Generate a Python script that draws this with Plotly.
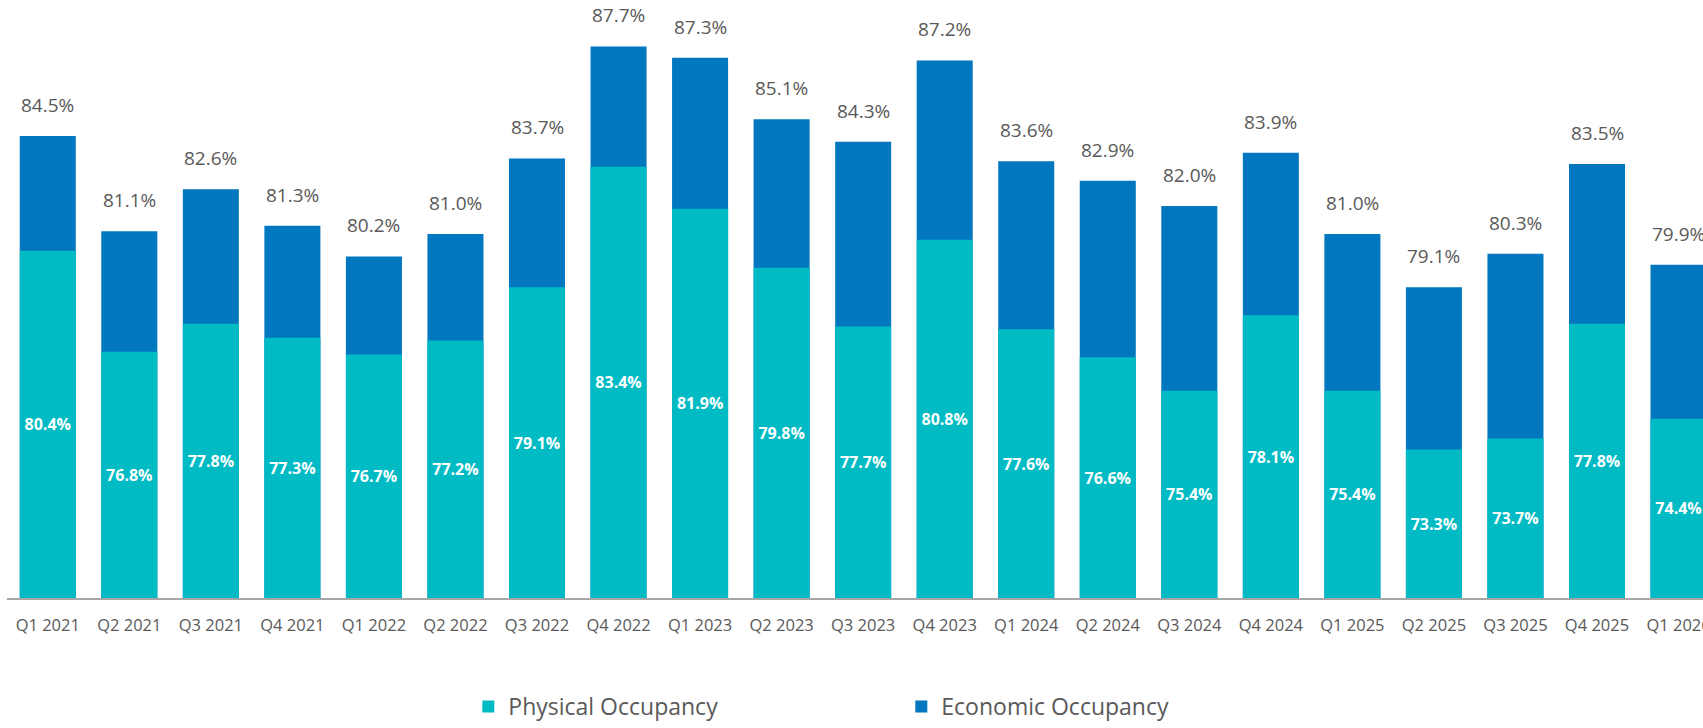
import plotly.graph_objects as go

quarters = [
    "Q1 2021", "Q2 2021", "Q3 2021", "Q4 2021",
    "Q1 2022", "Q2 2022", "Q3 2022", "Q4 2022",
    "Q1 2023", "Q2 2023", "Q3 2023", "Q4 2023",
    "Q1 2024", "Q2 2024", "Q3 2024", "Q4 2024",
    "Q1 2025", "Q2 2025", "Q3 2025", "Q4 2025",
    "Q1 2026",
]
economic_occupancy = [
    84.5, 81.1, 82.6, 81.3, 80.2, 81.0, 83.7, 87.7, 87.3, 85.1, 84.3,
    87.2, 83.6, 82.9, 82.0, 83.9, 81.0, 79.1, 80.3, 83.5, 79.9,
]
physical_occupancy = [
    80.4, 76.8, 77.8, 77.3, 76.7, 77.2, 79.1, 83.4, 81.9, 79.8, 77.7,
    80.8, 77.6, 76.6, 75.4, 78.1, 75.4, 73.3, 73.7, 77.8, 74.4,
]

# value axis starts at 68% so the bars rise from a common floor
AXIS_FLOOR = 68.0
AXIS_CEIL = 89.36

FONT = "Open Sans"
GREY = "#595959"
ECON_COLOR = "#0077BE"
PHYS_COLOR = "#00BBC4"

fig = go.Figure()

fig.add_trace(go.Bar(
    name="Economic Occupancy",
    x=quarters,
    y=[v - AXIS_FLOOR for v in economic_occupancy],
    base=AXIS_FLOOR,
    marker=dict(color=ECON_COLOR, line=dict(width=0)),
    hovertext=[f"{v:.1f}%" for v in economic_occupancy],
    hoverinfo="x+text",
))

fig.add_trace(go.Bar(
    name="Physical Occupancy",
    x=quarters,
    y=[v - AXIS_FLOOR for v in physical_occupancy],
    base=AXIS_FLOOR,
    marker=dict(color=PHYS_COLOR, line=dict(width=0)),
    text=[f"{v:.1f}%" for v in physical_occupancy],
    textposition="inside",
    insidetextanchor="middle",
    textangle=0,
    constraintext="none",
    textfont=dict(family=FONT, size=16, color="white", weight="bold"),
    hovertext=[f"{v:.1f}%" for v in physical_occupancy],
    hoverinfo="x+text",
))

# economic occupancy labels above each bar
for q, v in zip(quarters, economic_occupancy):
    fig.add_annotation(
        x=q, y=v, text=f"{v:.1f}%", showarrow=False,
        yanchor="middle", yshift=31,
        font=dict(family=FONT, size=19, color=GREY),
    )

fig.update_layout(
    width=1703,
    height=728,
    margin=dict(l=7, r=0, t=0, b=130, autoexpand=False),
    barmode="overlay",
    bargap=0.313,
    plot_bgcolor="white",
    paper_bgcolor="white",
    font=dict(family=FONT, color=GREY),
    legend=dict(
        orientation="h",
        x=0.272, xanchor="left",
        yref="container", y=0, yanchor="bottom",
        traceorder="reversed",
        entrywidth=388, entrywidthmode="pixels",
        font=dict(family=FONT, size=23, color=GREY),
    ),
    xaxis=dict(
        type="category",
        range=[-0.5, 20.3],
        automargin=False,
        showline=True, linecolor="#A6A6A6", linewidth=2,
        ticks="", showgrid=False, zeroline=False,
        ticklabelstandoff=11,
        tickfont=dict(family=FONT, size=16.5, color=GREY),
    ),
    yaxis=dict(
        range=[AXIS_FLOOR, AXIS_CEIL],
        automargin=False,
        visible=False, showgrid=False, zeroline=False,
    ),
)

fig.write_html("out.html")
